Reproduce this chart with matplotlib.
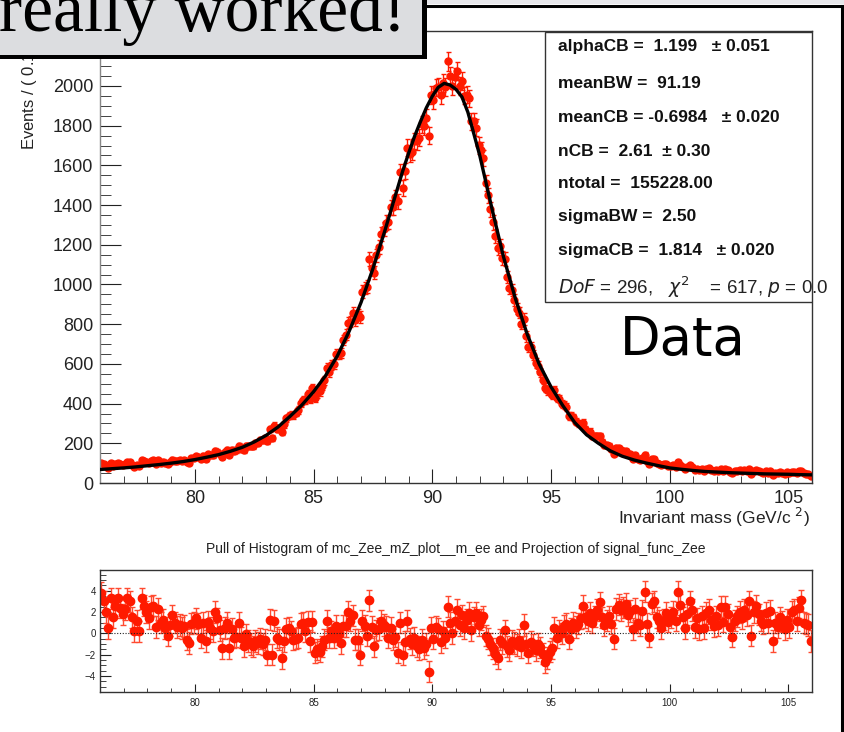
import numpy as np
import matplotlib
matplotlib.use('Agg')
import matplotlib.pyplot as plt
from matplotlib.patches import Rectangle
from matplotlib.lines import Line2D
from matplotlib.ticker import MultipleLocator

plt.rcParams['font.family'] = ['Liberation Sans', 'DejaVu Sans']

# bin centres: 76.05 ... 105.95, 0.1 GeV wide
mass = np.round(np.arange(76.05, 106.0, 0.1), 2)

# events per bin, one row per GeV
counts = [
    100, 94, 87, 75, 99, 85, 95, 102, 96, 91,
    97, 107, 105, 93, 82, 92, 85, 114, 109, 105,
    101, 112, 115, 97, 115, 103, 108, 101, 96, 107,
    118, 113, 110, 114, 112, 116, 105, 103, 125, 128,
    135, 132, 120, 138, 121, 144, 140, 139, 163, 158,
    148, 131, 158, 167, 141, 167, 161, 166, 187, 173,
    166, 187, 184, 185, 187, 200, 204, 216, 215, 228,
    213, 273, 229, 289, 271, 277, 258, 296, 326, 339,
    344, 341, 354, 367, 404, 419, 417, 449, 425, 477,
    429, 451, 462, 489, 518, 578, 560, 595, 600, 648,
    650, 654, 721, 746, 807, 813, 857, 820, 849, 836,
    964, 983, 989, 1128, 1083, 1059, 1147, 1189, 1255, 1279,
    1312, 1315, 1389, 1388, 1439, 1420, 1566, 1486, 1571, 1690,
    1656, 1667, 1723, 1721, 1740, 1807, 1797, 1839, 1750, 1955,
    1930, 1992, 1996, 1955, 2013, 1994, 2124, 2051, 2000, 2047,
    2077, 2001, 2025, 1952, 1957, 1937, 1823, 1823, 1789, 1701,
    1676, 1635, 1512, 1449, 1378, 1313, 1246, 1183, 1194, 1134,
    1129, 1038, 984, 971, 923, 879, 858, 802, 827, 740,
    686, 684, 646, 604, 590, 557, 520, 480, 467, 459,
    445, 467, 429, 425, 400, 395, 382, 338, 338, 331,
    309, 302, 297, 304, 273, 257, 259, 236, 236, 236,
    237, 209, 192, 189, 186, 171, 148, 177, 175, 164,
    161, 161, 145, 145, 122, 139, 122, 117, 127, 142,
    109, 94, 122, 121, 103, 98, 89, 94, 97, 87,
    88, 91, 83, 104, 92, 81, 71, 81, 89, 81,
    67, 72, 64, 72, 62, 72, 74, 66, 61, 67,
    61, 72, 62, 71, 65, 56, 49, 60, 62, 64,
    60, 65, 61, 70, 47, 62, 65, 59, 55, 52,
    59, 52, 60, 41, 52, 49, 55, 52, 47, 53,
    48, 57, 57, 50, 58, 62, 48, 47, 46, 37,
]

pulls = [
    3.8, 3.0, 2.0, 0.5, 3.3, 1.5, 2.6, 3.3, 2.4, 1.8,
    2.3, 3.3, 3.0, 1.5, 0.2, 1.2, 0.2, 3.3, 2.6, 2.0,
    1.4, 2.5, 2.6, 0.6, 2.3, 1.0, 1.3, 0.5, -0.2, 0.8,
    1.7, 1.0, 0.6, 0.8, 0.5, 0.7, -0.6, -0.9, 0.9, 1.0,
    1.4, 0.9, -0.4, 1.0, -0.7, 1.1, 0.5, 0.2, 2.0, 1.4,
    0.3, -1.4, 0.5, 1.0, -1.4, 0.4, -0.4, -0.3, 1.0, -0.4,
    -1.2, -0.1, -0.7, -1.0, -1.2, -0.7, -0.9, -0.5, -1.0, -0.6,
    -2.0, 1.3, -2.0, 1.2, -0.4, -0.6, -2.3, -0.7, 0.4, 0.5,
    0.2, -0.6, -0.5, -0.4, 0.9, 1.0, 0.2, 1.1, -0.7, 1.1,
    -1.8, -1.5, -1.7, -1.2, -0.6, 1.2, -0.4, 0.2, -0.4, 0.7,
    -0.1, -0.9, 0.7, 0.7, 2.0, 1.2, 1.7, -0.6, -0.6, -2.0,
    1.2, 0.7, -0.2, 3.1, 0.6, -1.2, 0.3, 0.4, 1.2, 0.8,
    0.6, -0.4, 0.5, -0.6, -0.3, -1.8, 1.0, -2.0, -0.8, 1.2,
    -0.5, -1.0, -0.4, -1.2, -1.5, -0.6, -1.4, -1.0, -3.6, 0.5,
    -0.5, 0.6, 0.4, -0.8, 0.2, -0.4, 2.5, 1.0, 0.0, 1.2,
    2.2, 0.8, 1.7, 0.5, 1.3, 1.9, 0.3, 1.5, 1.9, 0.8,
    1.3, 1.6, -0.2, -0.5, -1.0, -1.4, -1.9, -2.3, -0.6, -0.9,
    0.3, -1.2, -1.6, -0.7, -0.9, -1.1, -0.6, -1.3, 0.8, -1.0,
    -1.8, -0.8, -1.1, -1.6, -1.0, -1.3, -1.9, -2.7, -2.3, -1.7,
    -1.4, 0.5, -0.4, 0.3, 0.0, 0.7, 0.9, -0.5, 0.4, 1.0,
    0.6, 0.9, 1.4, 2.6, 1.5, 1.2, 1.9, 1.0, 1.6, 2.2,
    2.9, 1.5, 0.8, 1.2, 1.6, 0.9, -0.5, 2.3, 2.7, 2.2,
    2.4, 2.8, 1.7, 2.1, 0.4, 2.3, 1.0, 0.8, 2.1, 3.9,
    0.9, -0.3, 2.8, 3.0, 1.5, 1.2, 0.5, 1.3, 1.9, 1.1,
    1.5, 2.0, 1.2, 3.9, 2.7, 1.5, 0.5, 1.8, 3.0, 2.2,
    0.6, 1.4, 0.4, 1.6, 0.5, 1.9, 2.2, 1.3, 0.7, 1.6,
    0.8, 2.5, 1.1, 2.5, 1.8, 0.6, -0.3, 1.2, 1.6, 2.0,
    1.4, 2.2, 1.7, 3.0, -0.2, 2.0, 2.6, 1.8, 1.2, 0.9,
    1.9, 1.0, 2.1, -0.7, 1.0, 0.6, 1.5, 1.1, 0.4, 1.3,
    0.6, 2.0, 2.2, 1.2, 2.4, 3.1, 1.0, 0.9, 0.8, -0.7,
]

# fitted signal_func_Zee
fit_x = [76.0, 76.5, 77.0, 77.5, 78.0, 78.5, 79.0, 79.5, 80.0, 80.5,
         81.0, 81.5, 82.0, 82.5, 83.0, 83.5, 84.0, 84.5, 85.0, 85.5,
         86.0, 86.5, 87.0, 87.5, 88.0, 88.5, 88.75, 89.0, 89.25, 89.5,
         89.75, 90.0, 90.25, 90.5, 90.75, 91.0, 91.25, 91.5, 91.75, 92.0,
         92.25, 92.5, 93.0, 93.5, 94.0, 94.5, 95.0, 95.5, 96.0, 96.5,
         97.0, 97.5, 98.0, 98.5, 99.0, 99.5, 100.0, 100.5, 101.0, 101.5,
         102.0, 102.5, 103.0, 103.5, 104.0, 104.5, 105.0, 105.5, 106.0]
fit_y = [68, 72, 76, 81, 87, 93, 100, 108, 118, 130,
         143, 160, 180, 207, 240, 282, 335, 392, 460, 540,
         640, 765, 910, 1080, 1270, 1470, 1570, 1660, 1745, 1820,
         1890, 1948, 1993, 2013, 2005, 1983, 1945, 1868, 1760, 1650,
         1520, 1390, 1140, 930, 750, 600, 485, 390, 305, 243,
         200, 162, 135, 116, 101, 88, 76, 69, 63, 58,
         55, 52, 50, 48, 46, 45, 44, 42, 41]

stat_lines = [
    'alphaCB =  1.199   \u00b1 0.051',
    'meanBW =  91.19',
    'meanCB = -0.6984   \u00b1 0.020',
    'nCB =  2.61  \u00b1 0.30',
    'ntotal =  155228.00',
    'sigmaBW =  2.50',
    'sigmaCB =  1.814   \u00b1 0.020',
]

W, H = 844, 732
red = '#ff1a00'


def fx(px):
    return px / W


def fy(py):
    return 1 - py / H


fig = plt.figure(figsize=(W / 100, H / 100), dpi=100)

# ---- main panel ----
ax = fig.add_axes([fx(100), fy(483), fx(812) - fx(100), fy(31) - fy(483)])
counts = np.array(counts, dtype=float)
ax.errorbar(mass, counts, yerr=np.sqrt(counts), fmt='o', color=red, ms=5,
            elinewidth=1, capsize=1.8, capthick=1, zorder=2)
ax.plot(fit_x, fit_y, color='black', lw=2.4, zorder=3)
ax.set_xlim(76, 106)
ax.set_ylim(0, 2277)
ax.xaxis.set_major_locator(MultipleLocator(5))
ax.xaxis.set_minor_locator(MultipleLocator(1))
ax.yaxis.set_major_locator(MultipleLocator(200))
ax.yaxis.set_minor_locator(MultipleLocator(50))
ax.tick_params(which='both', direction='in', top=False, right=False,
               colors='#222222', labelsize=13)
ax.tick_params(axis='y', which='major', length=15, pad=5)
ax.tick_params(axis='y', which='minor', length=8)
ax.tick_params(axis='x', which='major', length=10, pad=5)
ax.tick_params(axis='x', which='minor', length=5)
for s in ax.spines.values():
    s.set_linewidth(1)
    s.set_color('#333333')
ax.spines['left'].set_color('#888888')

fig.text(fx(810), fy(517), 'Invariant mass (GeV/c $^{2}$)', ha='right',
         va='center', fontsize=12.5, color='#222222')
fig.text(fx(28), fy(150), 'Events / ( 0.1 GeV/c$^{2}$ )', rotation=90,
         ha='center', va='bottom', fontsize=12, color='#222222')

# stats box
ax.add_artist(Rectangle((fx(545), fy(302)), fx(812) - fx(545), fy(32) - fy(302),
                        transform=fig.transFigure, facecolor='white',
                        edgecolor='#333333', lw=1, zorder=4))
row_y = [47, 83, 117, 151, 184, 217, 251]
for line, py in zip(stat_lines, row_y):
    fig.text(fx(558), fy(py), line, ha='left', va='center', fontsize=12.5,
             fontweight='bold', color='#111111', zorder=5)
fig.text(fx(558), fy(287),
         r'$\mathit{DoF}$ = 296,   $\chi^{2}$    = 617, $\mathit{p}$ = 0.0',
         ha='left', va='center', fontsize=13.5, color='#222222')

fig.text(fx(620), fy(355), 'Data', ha='left', va='baseline',
         fontsize=38, family='DejaVu Sans', color='black')

# ---- pull panel ----
ax2 = fig.add_axes([fx(100), fy(692), fx(812) - fx(100), fy(570) - fy(692)])
ax2.errorbar(mass, pulls, yerr=1.0, fmt='o', color=red, ms=6,
             elinewidth=1, ecolor='#ff4a30', capsize=2, capthick=1)
ax2.axhline(0, color='#222222', lw=0.8, ls=(0, (1, 1.5)), zorder=3)
ax2.set_xlim(76, 106)
ax2.set_ylim(-5.5, 5.95)
ax2.xaxis.set_major_locator(MultipleLocator(5))
ax2.xaxis.set_minor_locator(MultipleLocator(1))
ax2.yaxis.set_major_locator(MultipleLocator(2))
ax2.yaxis.set_minor_locator(MultipleLocator(0.5))
ax2.tick_params(which='both', direction='in', top=False, right=False,
                colors='#222222', labelsize=7)
ax2.tick_params(axis='y', which='major', length=8, pad=3)
ax2.tick_params(axis='y', which='minor', length=4.5)
ax2.tick_params(axis='x', which='major', length=5.5, pad=4)
ax2.tick_params(axis='x', which='minor', length=3)
for s in ax2.spines.values():
    s.set_linewidth(1)
    s.set_color('#333333')
fig.text(fx(456), fy(549),
         'Pull of Histogram of mc_Zee_mZ_plot__m_ee and Projection of signal_func_Zee',
         ha='center', va='center', fontsize=10, color='#222222')

# ---- slide decorations: outer frame and the caption box ----
fig.add_artist(Rectangle((fx(426), fy(4)), fx(844) - fx(426), fy(0) - fy(4),
                         transform=fig.transFigure, facecolor='#e6e6ea',
                         edgecolor='none', zorder=8))
fig.add_artist(Line2D([fx(426), fx(842)], [fy(5.5), fy(5.5)],
                      transform=fig.transFigure, color='black', lw=2.2, zorder=9))
fig.add_artist(Line2D([fx(842), fx(842)], [fy(5.5), fy(732)],
                      transform=fig.transFigure, color='black', lw=2.2, zorder=9))
fig.add_artist(Rectangle((fx(0), fy(59)), fx(427), fy(0) - fy(59),
                         transform=fig.transFigure, facecolor='black',
                         edgecolor='none', zorder=10))
fig.add_artist(Rectangle((fx(0), fy(55)), fx(422), fy(0) - fy(55),
                         transform=fig.transFigure, facecolor='#dcdde0',
                         edgecolor='none', zorder=11))
fig.text(fx(-1), fy(31), 'really worked!', ha='left', va='baseline',
         fontsize=50, family='Liberation Serif', color='black', zorder=12)

fig.savefig('out.png', dpi=100)
